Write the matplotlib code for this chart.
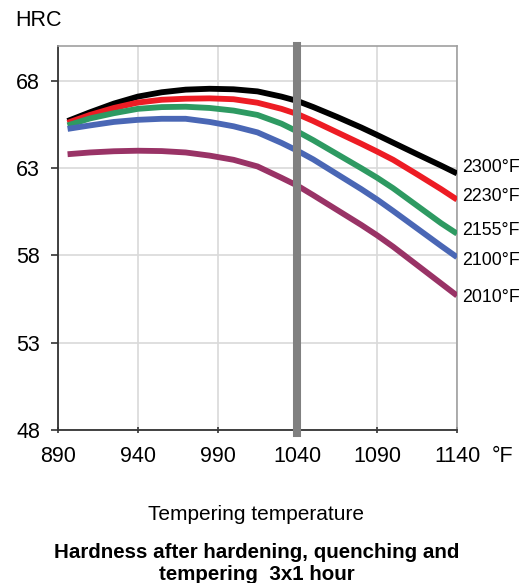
import matplotlib
matplotlib.use("Agg")
import matplotlib.pyplot as plt

plt.rcParams['font.family'] = ['Liberation Sans', 'DejaVu Sans']

temps = [896, 910, 925, 940, 955, 970, 985, 1000, 1015, 1030, 1040, 1050,
         1065, 1080, 1090, 1100, 1115, 1130, 1140]
hrc_2300 = [65.7, 66.2, 66.7, 67.1, 67.35, 67.5, 67.55, 67.52, 67.4, 67.1, 66.85, 66.5,
            65.93, 65.33, 64.9, 64.46, 63.8, 63.15, 62.7]
hrc_2230 = [65.6, 66.05, 66.45, 66.76, 66.92, 66.98, 67.0, 66.95, 66.75, 66.4, 66.1, 65.7,
            65.05, 64.4, 63.95, 63.48, 62.65, 61.8, 61.2]
hrc_2155 = [65.45, 65.85, 66.15, 66.4, 66.5, 66.52, 66.45, 66.3, 66.05, 65.55, 65.1, 64.6,
            63.8, 63.0, 62.45, 61.85, 60.85, 59.85, 59.25]
hrc_2100 = [65.25, 65.45, 65.65, 65.77, 65.83, 65.83, 65.65, 65.4, 65.05, 64.45, 64.0, 63.5,
            62.65, 61.8, 61.2, 60.55, 59.55, 58.55, 57.9]
hrc_2010 = [63.8, 63.9, 63.97, 64.0, 63.98, 63.9, 63.72, 63.48, 63.1, 62.45, 62.0, 61.45,
            60.6, 59.75, 59.15, 58.5, 57.45, 56.4, 55.7]
series_names = ["2300°F", "2230°F", "2155°F", "2100°F", "2010°F"]
series = [hrc_2300, hrc_2230, hrc_2155, hrc_2100, hrc_2010]
colors = ["#000000", "#ED1C24", "#2E9A62", "#4A67B5", "#993366"]
label_y = [63.05, 61.35, 59.45, 57.7, 55.6]

xticks = [890, 940, 990, 1040, 1090, 1140]
yticks = [48, 53, 58, 63, 68]
marker_temp = 1040

fig = plt.figure(figsize=(5.2, 5.83), dpi=100)
ax = fig.add_axes([58/520, 1-430/583, (457-58)/520, (430-46)/583])

ax.set_xlim(890, 1140)
ax.set_ylim(48, 70)
ax.set_xticks(xticks)
ax.set_yticks(yticks)
ax.set_xticklabels([str(t) for t in xticks])
ax.grid(True, color="#d9d9d9", linewidth=1.2)
ax.set_axisbelow(True)

for vals, col in zip(series, colors):
    ax.plot(temps, vals, color=col, linewidth=4.2, solid_capstyle='butt',
            solid_joinstyle='round', zorder=3)

ax.axvline(marker_temp, ymin=-0.008, ymax=1, color="#808080", linewidth=5.8,
           zorder=4, clip_on=False)

for name, ly in zip(series_names, label_y):
    ax.annotate(name, xy=(1140, ly), xytext=(4, 0), textcoords='offset points',
                ha='left', va='center', fontsize=12.8, annotation_clip=False)

for s in ['top', 'right']:
    ax.spines[s].set_color("#a0a0a0")
    ax.spines[s].set_linewidth(1.2)
for s in ['left', 'bottom']:
    ax.spines[s].set_color("#333333")
    ax.spines[s].set_linewidth(1.3)

ax.tick_params(axis='y', direction='out', length=5, width=1.2, color="#333333",
               labelsize=15.5, pad=8)
ax.tick_params(axis='x', direction='inout', length=5, width=1.2, color="#333333",
               labelsize=15.5, pad=9)

fig.text(492/520, 1-457/583, "°F", fontsize=15.5, ha='left', va='center')
fig.text(15/520, 1-20/583, "HRC", fontsize=15.5, ha='left', va='center')
fig.text(256/520, 1-515/583, "Tempering temperature", fontsize=15,
         ha='center', va='center')
fig.text(257/520, 1-553/583, "Hardness after hardening, quenching and",
         fontsize=14.8, fontweight='bold', ha='center', va='center')
fig.text(257/520, 1-575/583, "tempering  3x1 hour",
         fontsize=14.8, fontweight='bold', ha='center', va='center')

fig.savefig("out.png", dpi=100)
